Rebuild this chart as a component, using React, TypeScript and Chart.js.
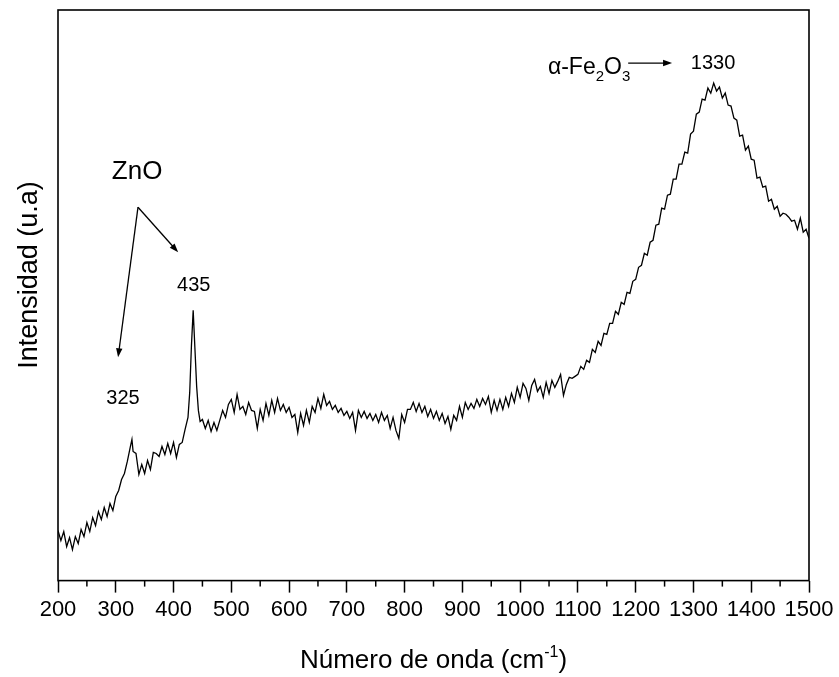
import React, { useEffect, useRef } from "react";
import { Chart, registerables } from "chart.js";

Chart.register(...registerables);

// Raman shift (cm^-1)
const wavenumbers: number[] = [
  200, 205, 210, 215, 220, 225, 230, 235, 240, 245, 250, 255, 260, 265, 270, 275, 280, 285, 290, 295,
  300, 305, 310, 315, 320, 325, 328, 330, 335, 340, 345, 350, 355, 360, 365, 370, 375, 380, 385, 390,
  395, 400, 405, 410, 415, 420, 425, 428, 431, 434, 437, 440, 443, 446, 450, 455, 460, 465, 470, 475,
  480, 485, 490, 495, 500, 505, 510, 515, 520, 525, 530, 535, 540, 545, 550, 555, 560, 565, 570, 575,
  580, 585, 590, 595, 600, 605, 610, 615, 620, 625, 630, 635, 640, 645, 650, 655, 660, 665, 670, 675,
  680, 685, 690, 695, 700, 705, 710, 715, 720, 725, 730, 735, 740, 745, 750, 755, 760, 765, 770, 775,
  780, 785, 790, 795, 800, 805, 810, 815, 820, 825, 830, 835, 840, 845, 850, 855, 860, 865, 870, 875,
  880, 885, 890, 895, 900, 905, 910, 915, 920, 925, 930, 935, 940, 945, 950, 955, 960, 965, 970, 975,
  980, 985, 990, 995, 1000, 1005, 1010, 1015, 1020, 1025, 1030, 1035, 1040, 1045, 1050, 1055, 1060, 1065, 1070, 1075,
  1080, 1085, 1090, 1095, 1100, 1105, 1110, 1115, 1120, 1125, 1130, 1135, 1140, 1145, 1150, 1155, 1160, 1165, 1170, 1175,
  1180, 1185, 1190, 1195, 1200, 1205, 1210, 1215, 1220, 1225, 1230, 1235, 1240, 1245, 1250, 1255, 1260, 1265, 1270, 1275,
  1280, 1285, 1290, 1295, 1300, 1305, 1310, 1315, 1320, 1325, 1330, 1335, 1340, 1345, 1350, 1355, 1360, 1365, 1370, 1375,
  1380, 1385, 1390, 1395, 1400, 1405, 1410, 1415, 1420, 1425, 1430, 1435, 1440, 1445, 1450, 1455, 1460, 1465, 1470, 1475,
  1480, 1485, 1490, 1495, 1500,
];

// Intensity (arbitrary units)
const intensities: number[] = [
  50, 40, 49, 34, 43, 31, 44, 37, 51, 44, 58, 49, 63, 55, 69, 61, 73, 64, 77, 70,
  84, 90, 101, 107, 119, 133, 141, 129, 127, 106, 116, 107, 120, 111, 128, 127, 124, 134, 126, 137,
  127, 138, 123, 136, 138, 151, 163, 188, 235, 270, 232, 194, 170, 159, 161, 152, 160, 149, 158, 150,
  160, 170, 163, 176, 181, 168, 186, 171, 174, 166, 178, 170, 169, 152, 171, 160, 177, 165, 180, 168,
  182, 170, 176, 168, 173, 163, 166, 148, 167, 155, 170, 158, 174, 168, 182, 172, 186, 175, 179, 171,
  175, 168, 172, 165, 169, 162, 168, 150, 170, 163, 169, 162, 167, 160, 166, 158, 168, 160, 165, 152,
  163, 150, 142, 166, 158, 171, 171, 178, 169, 177, 168, 174, 164, 171, 162, 169, 160, 167, 157, 164,
  151, 165, 160, 174, 163, 178, 171, 177, 172, 181, 174, 182, 176, 184, 168, 180, 170, 181, 171, 183,
  174, 187, 178, 193, 183, 197, 192, 180, 195, 201, 189, 194, 183, 198, 187, 200, 193, 199, 206, 185,
  196, 203, 202, 204, 206, 214, 211, 220, 218, 231, 228, 239, 235, 247, 246, 257, 257, 269, 266, 278,
  276, 288, 287, 299, 301, 313, 315, 327, 325, 338, 340, 355, 356, 372, 371, 385, 386, 401, 401, 416,
  416, 428, 427, 446, 449, 466, 468, 481, 480, 492, 487, 497, 489, 493, 482, 487, 475, 474, 462, 460,
  444, 445, 430, 434, 421, 420, 402, 403, 393, 394, 379, 381, 371, 374, 364, 367, 366, 363, 359, 360,
  351, 362, 348, 351, 342,
];

const xMin = 200;
const xMax = 1500;
const xMajorStep = 100;
const minorTickValues: number[] = [250, 350, 450, 550, 650, 750, 850, 950, 1050, 1150, 1250, 1350, 1450];
const yMin = 0;
const yMax = 570;

const xTitleMain = "Número de onda (cm";
const xTitleSup = "-1";
const xTitleEnd = ")";
const yTitle = "Intensidad (u.a)";

const FONT = "'Liberation Sans', Arial, Helvetica, sans-serif";

// annotation anchors in data units
const znoLabel = { text: "ZnO", x: 337, y: 408 };
const znoApex = { x: 338.5, y: 373 };
const znoArrowTargets = [
  { x: 408, y: 328 },
  { x: 304, y: 223 },
];
const peakLabels = [
  { text: "435", x: 435, y: 295 },
  { text: "325", x: 312.5, y: 182 },
  { text: "1330", x: 1334, y: 517 },
];
const hematite = { x: 1048, y: 506, arrowFrom: 1187, arrowTo: 1263, arrowY: 517 };

function drawArrow(ctx: CanvasRenderingContext2D, x1: number, y1: number, x2: number, y2: number) {
  const ang = Math.atan2(y2 - y1, x2 - x1);
  const hl = 9;
  const hw = 3.2;
  ctx.beginPath();
  ctx.moveTo(x1, y1);
  ctx.lineTo(x2 - Math.cos(ang) * hl * 0.6, y2 - Math.sin(ang) * hl * 0.6);
  ctx.stroke();
  ctx.beginPath();
  ctx.moveTo(x2, y2);
  ctx.lineTo(x2 - Math.cos(ang) * hl - Math.sin(ang) * hw, y2 - Math.sin(ang) * hl + Math.cos(ang) * hw);
  ctx.lineTo(x2 - Math.cos(ang) * hl + Math.sin(ang) * hw, y2 - Math.sin(ang) * hl - Math.cos(ang) * hw);
  ctx.closePath();
  ctx.fill();
}

const decorPlugin = {
  id: "decor",
  afterDraw(chart: any) {
    const { ctx, chartArea, scales } = chart;
    const xs = scales.x;
    const ys = scales.y;
    const { left, right, top, bottom } = chartArea;
    ctx.save();
    ctx.strokeStyle = "#000";
    ctx.fillStyle = "#000";
    // frame
    ctx.lineWidth = 1.6;
    ctx.strokeRect(left, top, right - left, bottom - top);
    // minor ticks
    ctx.lineWidth = 1.5;
    minorTickValues.forEach((v) => {
      const px = xs.getPixelForValue(v);
      ctx.beginPath();
      ctx.moveTo(px, bottom);
      ctx.lineTo(px, bottom + 6);
      ctx.stroke();
    });

    // x title with superscript
    ctx.textBaseline = "alphabetic";
    ctx.textAlign = "left";
    const mainFont = `26px ${FONT}`;
    const supFont = `16px ${FONT}`;
    ctx.font = mainFont;
    const w1 = ctx.measureText(xTitleMain).width;
    const w3 = ctx.measureText(xTitleEnd).width;
    ctx.font = supFont;
    const w2 = ctx.measureText(xTitleSup).width;
    const total = w1 + w2 + w3;
    const cx = (left + right) / 2;
    let tx = cx - total / 2;
    const ty = 668;
    ctx.font = mainFont;
    ctx.fillText(xTitleMain, tx, ty);
    tx += w1;
    ctx.font = supFont;
    ctx.fillText(xTitleSup, tx, ty - 11);
    tx += w2;
    ctx.font = mainFont;
    ctx.fillText(xTitleEnd, tx, ty);

    // y title
    ctx.save();
    ctx.translate(37, 275);
    ctx.rotate(-Math.PI / 2);
    ctx.font = `27px ${FONT}`;
    ctx.textAlign = "center";
    ctx.textBaseline = "alphabetic";
    ctx.fillText(yTitle, 0, 0);
    ctx.restore();

    // annotations
    ctx.lineWidth = 1.3;
    ctx.font = `26px ${FONT}`;
    ctx.textAlign = "center";
    ctx.textBaseline = "middle";
    ctx.fillText(znoLabel.text, xs.getPixelForValue(znoLabel.x), ys.getPixelForValue(znoLabel.y));
    const ax = xs.getPixelForValue(znoApex.x);
    const ay = ys.getPixelForValue(znoApex.y);
    znoArrowTargets.forEach((t) => {
      drawArrow(ctx, ax, ay, xs.getPixelForValue(t.x), ys.getPixelForValue(t.y));
    });
    ctx.font = `20px ${FONT}`;
    peakLabels.forEach((p) => {
      ctx.fillText(p.text, xs.getPixelForValue(p.x), ys.getPixelForValue(p.y));
    });

    // alpha-Fe2O3 label
    ctx.textAlign = "left";
    ctx.textBaseline = "alphabetic";
    let hx = xs.getPixelForValue(hematite.x);
    const hy = ys.getPixelForValue(hematite.y);
    const big = `23px ${FONT}`;
    const small = `15px ${FONT}`;
    const parts: [string, boolean][] = [["α-Fe", false], ["2", true], ["O", false], ["3", true]];
    parts.forEach(([s, sub]) => {
      ctx.font = sub ? small : big;
      ctx.fillText(s, hx, sub ? hy + 7 : hy);
      hx += ctx.measureText(s).width;
    });
    drawArrow(
      ctx,
      xs.getPixelForValue(hematite.arrowFrom),
      ys.getPixelForValue(hematite.arrowY),
      xs.getPixelForValue(hematite.arrowTo),
      ys.getPixelForValue(hematite.arrowY)
    );
    ctx.restore();
  },
};

export default function App() {
  const canvasRef = useRef<HTMLCanvasElement | null>(null);

  useEffect(() => {
    document.body.style.margin = "0";
    const canvas = canvasRef.current;
    if (!canvas) return;
    const points = wavenumbers.map((x, i) => ({ x, y: intensities[i] }));
    const chart = new Chart(canvas, {
      type: "line",
      data: {
        datasets: [
          {
            data: points,
            borderColor: "#000",
            borderWidth: 1.3,
            pointRadius: 0,
            tension: 0,
            fill: false,
          },
        ],
      },
      options: {
        animation: false,
        responsive: false,
        maintainAspectRatio: false,
        layout: { padding: { left: 58, right: 30, top: 10, bottom: 50 } },
        plugins: {
          legend: { display: false },
          tooltip: { enabled: false },
          title: { display: false },
        },
        scales: {
          x: {
            type: "linear",
            min: xMin,
            max: xMax,
            border: { display: false },
            grid: {
              display: true,
              drawOnChartArea: false,
              drawTicks: true,
              tickLength: 12,
              tickColor: "#000",
              tickWidth: 1.5,
            },
            ticks: {
              stepSize: xMajorStep,
              autoSkip: false,
              maxRotation: 0,
              padding: 4,
              color: "#000",
              font: { family: FONT, size: 22 },
              callback: (v: any) => String(v),
            },
          },
          y: {
            type: "linear",
            display: false,
            min: yMin,
            max: yMax,
          },
        },
      },
      plugins: [decorPlugin],
    });
    return () => chart.destroy();
  }, []);

  return (
    <div style={{ width: 839, height: 677, background: "#fff" }}>
      <canvas ref={canvasRef} width={839} height={677} style={{ display: "block" }} />
    </div>
  );
}
